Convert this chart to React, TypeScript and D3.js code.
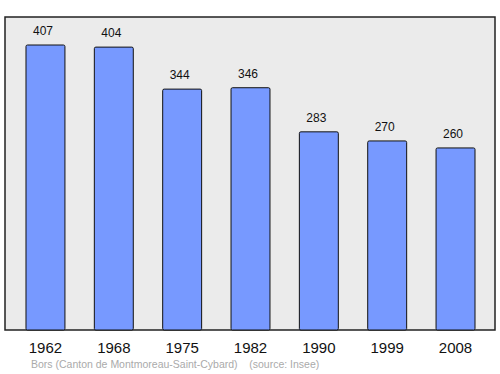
import React from "react";
import * as d3 from "d3";

const years = ["1962", "1968", "1975", "1982", "1990", "1999", "2008"];
const population = [407, 404, 344, 346, 283, 270, 260];
const footer = "Bors (Canton de Montmoreau-Saint-Cybard)    (source: Insee)";

export default function App() {
  const W = 500, H = 374;
  const left = 5, right = 495, top = 17, bottom = 330;
  const x = d3.scaleBand<string>().domain(years).range([11.3, 489.7]).paddingInner(0.43).paddingOuter(0.215);
  const y = d3.scaleLinear().domain([0, 447]).range([bottom, top]);
  return (
    <svg width={W} height={H} style={{ position: "absolute", left: 0, top: 0 }} fontFamily="Liberation Sans, Arial, sans-serif">
      <rect x={left} y={top} width={right - left} height={bottom - top} fill="#ebebeb" stroke="#222" strokeWidth={1.5} />
      {years.map((yr, i) => (
        <g key={yr}>
          <rect x={x(yr)} y={y(population[i])} width={x.bandwidth()} height={bottom - y(population[i])} fill="#7799ff" stroke="#111" strokeWidth={1} rx={1.5} />
          <text x={(x(yr) as number) + x.bandwidth() / 2 - 2.5} y={y(population[i]) - 10} textAnchor="middle" fontSize={12} fill="#111">{population[i]}</text>
          <text x={(x(yr) as number) + x.bandwidth() / 2} y={353} textAnchor="middle" fontSize={15} fill="#111">{yr}</text>
        </g>
      ))}
      <text x={31} y={368} fontSize={10.5} fill="#aaa" style={{ whiteSpace: "pre" }}>{footer}</text>
    </svg>
  );
}
